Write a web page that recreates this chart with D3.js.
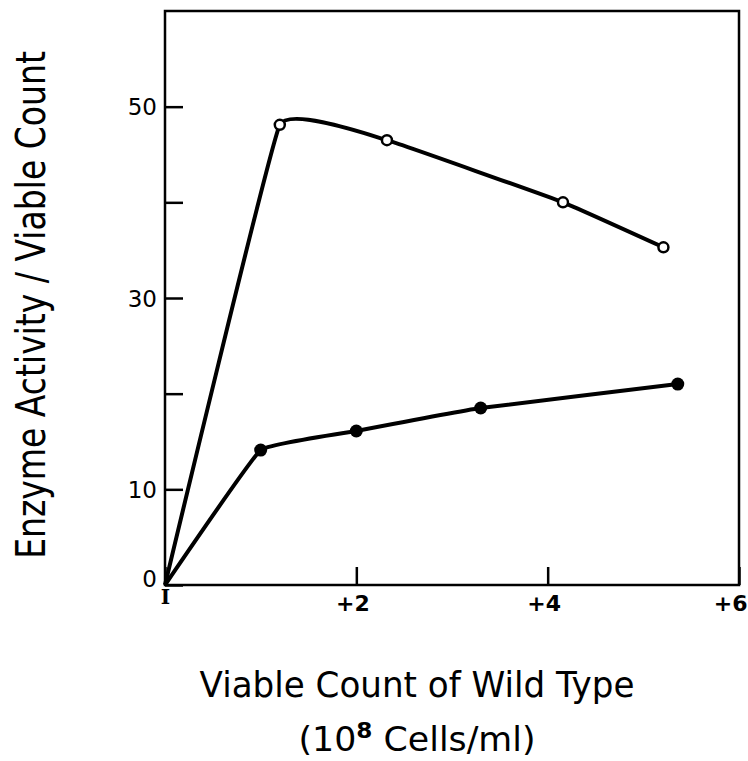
<!DOCTYPE html>
<html>
<head>
<meta charset="utf-8">
<script src="https://cdn.jsdelivr.net/npm/d3@7"></script>
<style>
  html, body { margin: 0; padding: 0; background: #fff; }
  svg { display: block; }
  text { font-family: "DejaVu Sans", sans-serif; fill: #000; }
</style>
</head>
<body>
<svg id="chart" width="748" height="761"></svg>
<script>
// ---- data ----
const openX   = [0, 1.2, 2.32, 4.16, 5.21];
const openY   = [0, 48.1, 46.5, 40.0, 35.3];
const filledX = [0, 1.0, 2.0, 3.3, 5.36];
const filledY = [0, 14.1, 16.1, 18.5, 21.0];
const xTicks = [0, 2, 4, 6];
const xTickLabels = ["I", "+2", "+4", "+6"];
const yTicks = [0, 10, 20, 30, 40, 50];
const yTickLabels = ["0", "10", "", "30", "", "50"];
const xTitle1 = "Viable Count of Wild Type";
const xTitle2a = "(10";
const xTitle2sup = "8";
const xTitle2b = " Cells/ml)";
const yTitle = "Enzyme Activity / Viable Count";

// ---- layout ----
const svg = d3.select("#chart");
const mLeft = 165, mRight = 739, mTop = 11, mBottom = 585;
const x = d3.scaleLinear().domain([0, 6]).range([mLeft, mRight]);
const y = d3.scaleLinear().domain([0, 60]).range([mBottom, mTop]);

// frame
svg.append("rect")
  .attr("x", mLeft).attr("y", mTop)
  .attr("width", mRight - mLeft).attr("height", mBottom - mTop)
  .attr("fill", "none").attr("stroke", "#000").attr("stroke-width", 2.5);

// y axis
const yAxis = d3.axisLeft(y)
  .tickValues(yTicks)
  .tickSize(-18)
  .tickPadding(8)
  .tickFormat((d, i) => yTickLabels[i]);
const gy = svg.append("g").attr("transform", `translate(${mLeft},0)`).call(yAxis);
gy.select(".domain").remove();
gy.selectAll(".tick line").attr("stroke", "#000").attr("stroke-width", 2.5);
gy.selectAll(".tick text")
  .style("font-size", "23px")
  .attr("dy", (d) => d === 0 ? "0.05em" : "0.35em");

// x axis
const xAxis = d3.axisBottom(x)
  .tickValues(xTicks)
  .tickSize(-18)
  .tickPadding(10)
  .tickFormat((d, i) => xTickLabels[i]);
const gx = svg.append("g").attr("transform", `translate(0,${mBottom})`).call(xAxis);
gx.select(".domain").remove();
gx.selectAll(".tick line").attr("stroke", "#000").attr("stroke-width", 2.5);
gx.selectAll(".tick text")
  .style("font-size", (d) => d === 0 ? "20px" : "22px")
  .style("font-weight", "bold")
  .attr("text-anchor", (d) => d === 6 ? "end" : "middle")
  .attr("dx", (d) => d === 0 ? "0" : (d === 6 ? "8" : "-4"))
  .attr("dy", (d) => d === 0 ? "0.45em" : "0.71em")
  .style("font-family", (d) => d === 0 ? "'DejaVu Serif', serif" : null);

// lines
const line = d3.line()
  .x(d => x(d[0])).y(d => y(d[1]))
  .curve(d3.curveCardinal.tension(0.75));

const openData = openX.map((v, i) => [v, openY[i]]);
const filledData = filledX.map((v, i) => [v, filledY[i]]);

svg.append("path").datum(openData).attr("d", line)
  .attr("fill", "none").attr("stroke", "#000").attr("stroke-width", 4)
  .attr("stroke-linejoin", "round");
svg.append("path").datum(filledData).attr("d", line)
  .attr("fill", "none").attr("stroke", "#000").attr("stroke-width", 4)
  .attr("stroke-linejoin", "round");

// markers
svg.selectAll("circle.open").data(openData.slice(1)).join("circle")
  .attr("class", "open")
  .attr("cx", d => x(d[0])).attr("cy", d => y(d[1]))
  .attr("r", 5).attr("fill", "#fff").attr("stroke", "#000").attr("stroke-width", 2.5);
svg.selectAll("circle.filled").data(filledData.slice(1)).join("circle")
  .attr("class", "filled")
  .attr("cx", d => x(d[0])).attr("cy", d => y(d[1]))
  .attr("r", 6.5).attr("fill", "#000");

// titles (condensed horizontally via scale to match the narrow typeface)
function condensed(tx, ty, rot, targetW, build) {
  const g = svg.append("g");
  const t = g.append("text").attr("text-anchor", "middle");
  build(t);
  const w = t.node().getComputedTextLength();
  const sx = targetW / w;
  g.attr("transform", `translate(${tx},${ty}) rotate(${rot}) scale(${sx},1)`);
  return t;
}

condensed(417, 697, 0, 435, t => t.style("font-size", "36px").text(xTitle1));

condensed(417, 751, 0, 237, t => {
  t.style("font-size", "33px");
  t.append("tspan").text(xTitle2a);
  t.append("tspan").attr("dy", -13).style("font-size", "22px").style("font-weight", "bold").text(xTitle2sup);
  t.append("tspan").attr("dy", 13).text(xTitle2b);
});

condensed(45, 305, -90, 508, t => t.style("font-size", "41px").text(yTitle));
</script>
</body>
</html>
